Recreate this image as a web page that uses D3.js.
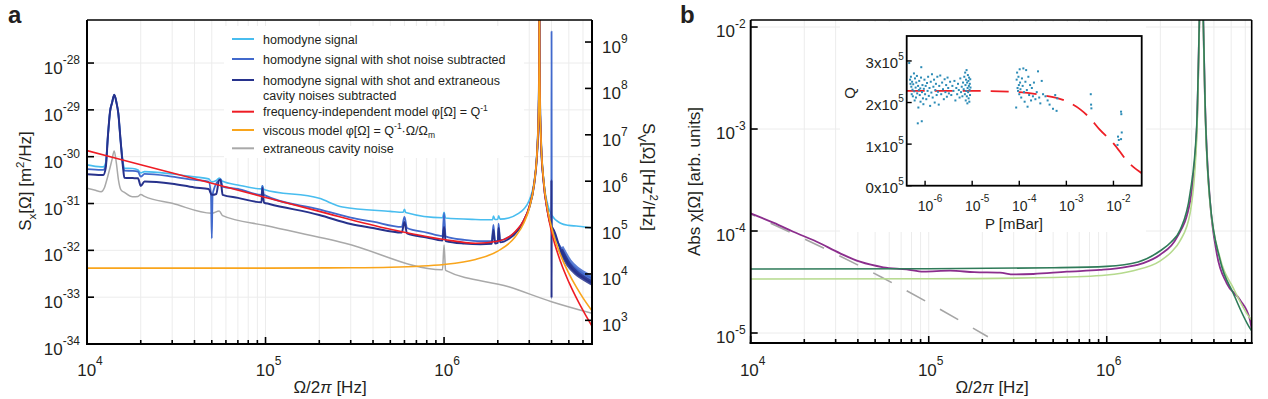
<!DOCTYPE html>
<html><head><meta charset="utf-8">
<script src="https://cdn.jsdelivr.net/npm/d3@7"></script>
<style>
body{margin:0;background:#fff;}
svg{display:block;font-family:"Liberation Sans",Arial,Helvetica,sans-serif;}
</style></head><body>
<svg id="chart" width="1268" height="399"></svg>
<script>
// ================= DATA: panel a (frequency [Hz], spectral density) =================
const homodyne = [[1e4,6.68e-31],[1.2e4,6.05e-31],[1.234e4,6.05e-31],[1.273e4,7.5e-31],[1.311e4,2.92e-30],[1.346e4,9.2e-30],[1.381e4,1.41e-29],[1.422e4,2.09e-29],[1.463e4,1.41e-29],[1.497e4,8.49e-30],[1.541e4,2.29e-30],[1.597e4,7.0e-31],[1.618e4,5.7e-31],[1.8e4,5.6e-31],[1.93e4,5.2e-31],[2.0e4,4.51e-31],[2.1e4,4.81e-31],[3e4,4.28e-31],[4e4,3.7e-31],[4.8e4,3.36e-31],[5.0e4,2.9e-31],[5.3e4,3.1e-31],[5.5e4,3.52e-31],[5.75e4,2.98e-31],[7e4,2.49e-31],[9.5e4,2.05e-31],[9.6e4,2.38e-31],[9.8e4,2.0e-31],[2e5,1.29e-31],[2.7e5,8.4e-32],[5e5,6.8e-32],[5.9e5,6.5e-32],[6e5,7.48e-32],[6.1e5,6.4e-32],[9.8e5,4.95e-32],[1e6,6.46e-32],[1.02e6,4.9e-32],[1.5e6,4.57e-32],[1.87e6,4.5e-32],[1.89e6,5.43e-32],[1.93e6,4.55e-32],[2.0e6,4.6e-32],[2.02e6,5.5e-32],[2.06e6,4.65e-32],[2.3e6,4.92e-32],[2.6e6,6.1e-32],[2.8e6,7.64e-32],[3.0e6,1.17e-31],[3.2e6,3.04e-31],[3.3e6,8.94e-31],[3.35e6,2.48e-30],[3.39e6,1.31e-29],[3.41e6,1.16e-28],[3.42e6,1e-26],[3.43e6,1.15e-28],[3.45e6,1.26e-29],[3.5e6,1.75e-30],[3.6e6,3.53e-31],[3.8e6,9.7e-32],[4.0e6,5.7e-32],[4.5e6,3.8e-32],[5e6,3.41e-32],[5.5e6,3.3e-32],[6e6,3.2e-32],[6.74e6,3.0e-32]];

const shotSubtracted = [[1e4,5.41e-31],[1.2e4,5.22e-31],[1.234e4,5.22e-31],[1.273e4,6.5e-31],[1.311e4,2.92e-30],[1.346e4,9.2e-30],[1.381e4,1.41e-29],[1.422e4,2.09e-29],[1.463e4,1.41e-29],[1.497e4,8.49e-30],[1.541e4,2.29e-30],[1.597e4,6.0e-31],[1.618e4,5.05e-31],[1.8e4,4.98e-31],[1.93e4,4.81e-31],[2.0e4,3.76e-31],[2.1e4,4.28e-31],[3e4,3.76e-31],[4e4,3.19e-31],[4.8e4,2.94e-31],[4.95e4,1.5e-31],[5.0e4,1.81e-32],[5.05e4,1.5e-31],[5.2e4,2.3e-31],[5.5e4,3.19e-31],[5.6e4,3.3e-31],[5.75e4,2.3e-31],[7e4,2.05e-31],[9.5e4,1.53e-31],[9.6e4,2.38e-31],[9.8e4,1.53e-31],[2e5,7.5e-32],[3e5,5.0e-32],[4e5,4.1e-32],[5.8e5,3.16e-32],[6e5,5.2e-32],[6.2e5,3.0e-32],[8e5,2.4e-32],[9.8e5,2.02e-32],[1e6,6.21e-32],[1.02e6,1.98e-32],[1.3e6,1.67e-32],[1.6e6,1.57e-32],[1.85e6,1.57e-32],[1.89e6,3.5e-32],[1.93e6,1.58e-32],[2.0e6,1.62e-32],[2.02e6,3.7e-32],[2.06e6,1.66e-32],[2.3e6,1.91e-32],[2.6e6,2.84e-32],[2.8e6,4.43e-32],[3.0e6,8.3e-32],[3.2e6,2.66e-31],[3.3e6,8.4e-31],[3.35e6,2.4e-30],[3.39e6,1.28e-29],[3.41e6,1.15e-28],[3.42e6,1e-26],[3.43e6,1.14e-28],[3.45e6,1.25e-29],[3.5e6,1.72e-30],[3.6e6,3.32e-31],[3.8e6,7.2e-32],[3.99e6,3.5e-32],[4.0e6,4.7e-28],[4.01e6,3.4e-32],[4.5e6,1.15e-32],[5e6,5.8e-33],[5.5e6,4.0e-33],[6e6,3.2e-33],[6.74e6,2.5e-33]];

const shotCavitySubtracted = [[1e4,4.23e-31],[1.2e4,4.08e-31],[1.234e4,4.08e-31],[1.273e4,5.77e-31],[1.311e4,2.92e-30],[1.346e4,9.2e-30],[1.381e4,1.41e-29],[1.422e4,2.09e-29],[1.463e4,1.41e-29],[1.497e4,8.49e-30],[1.541e4,2.29e-30],[1.597e4,5.22e-31],[1.618e4,3.57e-31],[1.8e4,3.49e-31],[1.93e4,3.45e-31],[2.0e4,2.38e-31],[2.1e4,2.96e-31],[3e4,2.65e-31],[4e4,2.21e-31],[4.8e4,2.05e-31],[5.0e4,1.53e-31],[5.3e4,1.6e-31],[5.5e4,3.19e-31],[5.6e4,3.19e-31],[5.75e4,1.53e-31],[7e4,1.32e-31],[9.5e4,1.06e-31],[9.6e4,2.15e-31],[9.8e4,1.05e-31],[1.05e5,9.8e-32],[2e5,5.7e-32],[3e5,3.66e-32],[4e5,3.0e-32],[5.8e5,2.41e-32],[6e5,4.05e-32],[6.2e5,2.3e-32],[8e5,1.89e-32],[9.8e5,1.63e-32],[1e6,3.16e-32],[1.02e6,1.59e-32],[1.3e6,1.4e-32],[1.6e6,1.35e-32],[1.85e6,1.38e-32],[1.89e6,2.73e-32],[1.93e6,1.4e-32],[2.0e6,1.44e-32],[2.02e6,3.0e-32],[2.06e6,1.48e-32],[2.3e6,1.75e-32],[2.6e6,2.7e-32],[2.8e6,4.3e-32],[3.0e6,8.2e-32],[3.2e6,2.65e-31],[3.3e6,8.4e-31],[3.35e6,2.4e-30],[3.39e6,1.28e-29],[3.41e6,1.15e-28],[3.42e6,1e-26],[3.43e6,1.14e-28],[3.45e6,1.25e-29],[3.5e6,1.72e-30],[3.6e6,3.3e-31],[3.8e6,7.0e-32],[3.99e6,3.3e-32],[3.995e6,3.19e-31],[4.0e6,9.6e-34],[4.005e6,3.1e-32],[4.5e6,1.02e-32],[5e6,4.9e-33],[5.5e6,3.3e-33],[6e6,2.6e-33],[6.74e6,2.0e-33]];

const freqIndependentModel = [[1e4,1.35e-30],[2e4,6.75e-31],[5e4,2.7e-31],[1e5,1.35e-31],[2e5,6.8e-32],[5e5,2.82e-32],[1e6,1.7e-32],[1.5e6,1.42e-32],[2e6,1.56e-32],[2.5e6,2.49e-32],[2.8e6,4.44e-32],[3.0e6,8.47e-32],[3.2e6,2.72e-31],[3.3e6,8.62e-31],[3.35e6,2.45e-30],[3.39e6,1.305e-29],[3.41e6,1.16e-28],[3.42e6,1e-26],[3.43e6,1.147e-28],[3.45e6,1.26e-29],[3.5e6,1.72e-30],[3.6e6,3.21e-31],[3.8e6,6.46e-32],[4.0e6,2.49e-32],[4.5e6,5.61e-33],[5e6,2.09e-33],[5.5e6,9.76e-34],[6e6,5.21e-34],[6.74e6,2.4e-34]];

const viscousModel = [[1e4,4.17e-33],[1e5,4.18e-33],[3e5,4.24e-33],[5e5,4.35e-33],[1e6,4.99e-33],[1.5e6,6.39e-33],[2e6,9.63e-33],[2.5e6,1.92e-32],[2.8e6,3.84e-32],[3.0e6,7.85e-32],[3.2e6,2.69e-31],[3.3e6,8.78e-31],[3.35e6,2.53e-30],[3.39e6,1.365e-29],[3.41e6,1.22e-28],[3.42e6,1e-26],[3.43e6,1.215e-28],[3.45e6,1.34e-29],[3.5e6,1.86e-30],[3.6e6,3.57e-31],[3.8e6,7.58e-32],[4.0e6,3.08e-32],[4.5e6,7.8e-33],[5e6,3.23e-33],[5.5e6,1.657e-33],[6e6,9.66e-34],[6.74e6,5.1e-34]];

const cavityNoise = [[1e4,2.12e-31],[1.1e4,1.95e-31],[1.2e4,1.79e-31],[1.25e4,2.15e-31],[1.3e4,3.52e-31],[1.38e4,8.55e-31],[1.42e4,1.33e-30],[1.46e4,7.38e-31],[1.5e4,3.19e-31],[1.55e4,1.95e-31],[1.62e4,1.73e-31],[1.8e4,1.4e-31],[1.93e4,1.42e-31],[2.0e4,1.56e-31],[2.1e4,1.42e-31],[3e4,1.01e-31],[5e4,6.21e-32],[5.5e4,6.95e-32],[5.75e4,5.5e-32],[1e5,3.38e-32],[2.79e5,1.42e-32],[9.8e5,3.85e-33],[1e6,1.3e-32],[1.02e6,3.75e-33],[2.3e6,1.67e-33],[4e6,8.02e-34],[6.74e6,4.53e-34]];

// ================= DATA: panel b (frequency [Hz], |chi| arb. units) =================
const chiMeasured = [[1e4,1.49e-4],[1.35e4,1.2e-4],[1.735e4,9.84e-5],[2.35e4,7.85e-5],[3.18e4,6.04e-5],[4.11e4,5.0e-5],[5.56e4,4.41e-5],[7.52e4,4.21e-5],[9.33e4,3.99e-5],[1.317e5,4.08e-5],[1.8e5,3.95e-5],[2.515e5,3.9e-5],[3.0e5,3.75e-5],[3.87e5,3.79e-5],[5.96e5,3.99e-5],[9.17e5,4.15e-5],[1.296e6,4.45e-5],[1.605e6,4.85e-5],[1.993e6,5.85e-5],[2.474e6,8.6e-5],[2.94e6,1.95e-4],[3.2e6,9.5e-4],[3.313e6,1.1e-2],[3.40e6,0.1],[3.488e6,1.1e-2],[3.565e6,1.85e-3],[3.65e6,6e-4],[3.8e6,2.0e-4],[4.15e6,6.0e-5],[4.72e6,3.07e-5],[5.61e6,2.11e-5],[6.38e6,1.34e-5],[6.52e6,1.07e-5]];

const chiModelDark = [[1e4,4.24e-5],[1e5,4.26e-5],[5e5,4.36e-5],[1e6,4.5e-5],[1.5e6,4.97e-5],[1.99e6,6.37e-5],[2.3e6,7.8e-5],[2.58e6,1.02e-4],[2.94e6,2.36e-4],[3.2e6,1.05e-3],[3.313e6,1.17e-2],[3.40e6,0.1],[3.488e6,1.17e-2],[3.565e6,1.92e-3],[3.8e6,2.01e-4],[4.33e6,5.2e-5],[5.14e6,2.45e-5],[6.38e6,1.11e-5],[6.52e6,1.05e-5]];

const chiModelLight = [[1e4,3.38e-5],[1e5,3.4e-5],[5e5,3.5e-5],[1e6,3.7e-5],[1.41e6,4.08e-5],[2.0e6,5.1e-5],[2.3e6,6.2e-5],[2.58e6,8.0e-5],[2.94e6,1.5e-4],[3.2e6,8.0e-4],[3.313e6,1.0e-2],[3.40e6,0.1],[3.488e6,1.0e-2],[3.565e6,1.7e-3],[3.8e6,1.9e-4],[4.33e6,5.43e-5],[5.14e6,2.76e-5],[6.38e6,1.4e-5],[6.52e6,1.34e-5]];

const chiLowFreqAsymptote = [[1e4,1.47e-4],[5.44e4,3.52e-5],[2.15e5,9.2e-6]];

// ================= DATA: inset (pressure [mBar], Q) =================
const qMeasured = [[4.6e-7,2.95e5],[4.8e-7,2.55e5],[4.9e-7,2.45e5],[5.0e-7,2.62e5],[5.1e-7,2.38e5],[5.2e-7,2.2e5],[5.3e-7,2.5e5],[5.4e-7,2.31e5],[5.5e-7,2.15e5],[5.6e-7,2.44e5],[5.8e-7,2.7e5],[5.9e-7,2.27e5],[6.0e-7,2.05e5],[6.1e-7,2.58e5],[6.3e-7,2.36e5],[6.4e-7,2.12e5],[6.5e-7,2.48e5],[6.7e-7,2.64e5],[6.8e-7,2.22e5],[7.0e-7,1.5e5],[7.1e-7,2.4e5],[7.2e-7,1.88e5],[7.4e-7,2.3e5],[7.5e-7,2.52e5],[7.7e-7,2.18e5],[7.9e-7,2.34e5],[8.0e-7,2.02e5],[8.2e-7,2.6e5],[8.3e-7,2.85e5],[8.5e-7,1.55e5],[8.6e-7,2.25e5],[8.8e-7,2.42e5],[9.0e-7,2.1e5],[9.2e-7,1.96e5],[9.4e-7,2.33e5],[9.7e-7,2.55e5],[1.0e-6,2.2e5],[1.03e-6,2.4e5],[1.06e-6,2.08e5],[1.1e-6,2.47e5],[1.13e-6,2.28e5],[1.16e-6,2.62e5],[1.2e-6,2.16e5],[1.24e-6,2.35e5],[1.28e-6,1.92e5],[1.32e-6,2.5e5],[1.36e-6,2.24e5],[1.4e-6,2.68e5],[1.45e-6,2.12e5],[1.5e-6,2.38e5],[1.55e-6,2.55e5],[1.6e-6,2.0e5],[1.65e-6,2.3e5],[1.7e-6,2.45e5],[1.76e-6,2.18e5],[1.82e-6,2.62e5],[1.88e-6,2.26e5],[1.95e-6,1.95e5],[2.0e-6,2.4e5],[2.1e-6,2.65e5],[2.2e-6,2.2e5],[2.3e-6,2.48e5],[2.4e-6,2.32e5],[2.5e-6,2.08e5],[2.6e-6,2.56e5],[2.7e-6,2.25e5],[2.8e-6,2.42e5],[2.9e-6,2.14e5],[3.0e-6,2.6e5],[3.1e-6,2.35e5],[3.2e-6,2.22e5],[3.4e-6,2.5e5],
[3.6e-6,2.18e5],[3.8e-6,2.4e5],[4.0e-6,2.28e5],[4.2e-6,2.52e5],[4.4e-6,2.05e5],[4.6e-6,2.35e5],[4.8e-6,2.2e5],[5.0e-6,2.45e5],[5.2e-6,2.3e5],[5.4e-6,2.12e5],[5.6e-6,2.58e5],[5.8e-6,2.25e5],[6.0e-6,2.38e5],[6.2e-6,2.15e5],[6.4e-6,2.48e5],[6.6e-6,2.32e5],[6.8e-6,2.62e5],[7.0e-6,2.2e5],[7.1e-6,2.72e5],[7.2e-6,2.42e5],[7.3e-6,2.05e5],[7.4e-6,2.55e5],[7.5e-6,2.28e5],[7.6e-6,2.78e5],[7.7e-6,2.15e5],[7.8e-6,2.48e5],[7.9e-6,1.98e5],[8.0e-6,2.35e5],[8.1e-6,2.66e5],[8.2e-6,2.25e5],[8.3e-6,2.52e5],[8.4e-6,2.1e5],[8.5e-6,2.4e5],[8.6e-6,2.6e5],[8.7e-6,2.02e5],[8.8e-6,2.3e5],[8.9e-6,2.45e5],[9.0e-6,2.18e5],[9.1e-6,2.56e5],[9.2e-6,2.36e5],
[8.6e-5,1.88e5],[8.8e-5,2.55e5],[9.0e-5,2.72e5],[9.2e-5,2.35e5],[9.4e-5,2.28e5],[9.6e-5,2.62e5],[9.8e-5,2.42e5],[1.0e-4,2.2e5],[1.02e-4,2.8e5],[1.04e-4,2.48e5],[1.06e-4,2.32e5],[1.1e-4,2.12e5],[1.14e-4,2.58e5],[1.18e-4,2.4e5],[1.22e-4,2.82e5],[1.26e-4,2.25e5],[1.3e-4,2.02e5],[1.35e-4,2.5e5],[1.4e-4,2.78e5],[1.45e-4,2.3e5],[1.5e-4,1.9e5],[1.56e-4,2.62e5],[1.62e-4,2.18e5],[1.7e-4,2.42e5],[1.78e-4,2.05e5],[1.85e-4,2.35e5],[1.95e-4,2.15e5],[2.05e-4,2.48e5],[2.2e-4,2.08e5],[2.35e-4,2.25e5],[2.5e-4,2.75e5],[2.65e-4,2.12e5],[2.8e-4,1.98e5],[3.0e-4,2.52e5],[3.2e-4,2.2e5],
[3.6e-4,2.15e5],[4.0e-4,2.05e5],[4.4e-4,1.95e5],[5.2e-4,1.85e5],[5.8e-4,2.18e5],[6.2e-4,1.8e5],[6.4e-4,2.1e5],
[3.3e-3,2.2e5],[3.35e-3,1.95e5],[3.4e-3,1.86e5],
[1.45e-2,1.78e5],[1.47e-2,1.72e5],[1.5e-2,1.28e5],[1.25e-2,1.18e5],[1.3e-2,1.1e5],[1.22e-2,0.98e5],[1.45e-2,1.12e5]];

const qFit = [[4.07e-7,2.28e5],[1e-6,2.28e5],[1e-5,2.28e5],[1e-4,2.25e5],[3e-4,2.18e5],[1e-3,2.03e5],[2e-3,1.83e5],[3.2e-3,1.62e5],[5e-3,1.36e5],[1e-2,1.02e5],[2e-2,5.8e4],[3.98e-2,3.0e4]];

// ================= TICKS / LABELS =================
const xDecadesA = [1e4,1e5,1e6];
const xDecadesB = [1e4,1e5,1e6];
const yTicksA = [1e-34,1e-33,1e-32,1e-31,1e-30,1e-29,1e-28];
const yTicksA2 = [1e3,1e4,1e5,1e6,1e7,1e8,1e9];
const yTicksB = [1e-5,1e-4,1e-3,1e-2];
const insetYTicks = [0,1e5,2e5,3e5];
const insetXTicks = [1e-6,1e-5,1e-4,1e-3,1e-2];

const legendEntries = [
  {lines:[[['homodyne signal']]], key:'light'},
  {lines:[[['homodyne signal with shot noise subtracted']]], key:'medium'},
  {lines:[[['homodyne signal with shot and extraneous']],[['cavity noises subtracted']]], key:'navy'},
  {lines:[[['frequency-independent model φ[Ω] = Q'],['-1','sup']]], key:'red'},
  {lines:[[['viscous model φ[Ω] = Q'],['-1','sup'],['·Ω/Ω'],['m','sub']]], key:'orange'},
  {lines:[[['extraneous cavity noise']]], key:'grey'}
];

// ================= STYLE =================
const COL = {light:'#48bdef', medium:'#4169cc', navy:'#27328c', red:'#ee1c24', orange:'#f9a51c', grey:'#a9a9a9',
  purple:'#8b2e8d', dgreen:'#2f7b59', lgreen:'#b5da8d', dash:'#a5a5a5', dot:'#2b8bb6', fit:'#ee1f26',
  grid:'#ececec', text:'#231f20'};

const svg = d3.select('#chart');
const defs = svg.append('defs');

function rich(g, x, y, parts, fs, anchor) {
  const t = g.append('text').attr('x', x).attr('y', y).attr('font-size', fs).attr('fill', COL.text);
  if (anchor) t.attr('text-anchor', anchor);
  let shift = 0;
  parts.forEach(p => {
    const txt = p[0], kind = p[1];
    const target = kind === 'sup' ? -0.42 * fs : (kind === 'sub' ? 0.3 * fs : 0);
    const ts = t.append('tspan').text(txt).attr('dy', target - shift);
    if (kind === 'sup' || kind === 'sub') ts.attr('font-size', fs * 0.68);
    if (kind === 'it') ts.attr('font-style', 'italic');
    shift = target;
  });
  return t;
}
function pow10(g, x, y, exp, anchor, fs, sfs, sdy, prefix) {
  const t = g.append('text').attr('x', x).attr('y', y).attr('text-anchor', anchor)
    .attr('font-size', fs).attr('fill', COL.text);
  t.append('tspan').text(prefix || '10');
  t.append('tspan').attr('font-size', sfs).attr('dy', sdy).text(exp);
  return t;
}
function minors(decades, max) {
  const out = [];
  decades.forEach(d => { for (let k = 2; k <= 9; k++) if (d * k <= max) out.push(d * k); });
  return out;
}
const expOf = v => String(Math.round(Math.log10(v)));
function clip(id, P) {
  defs.append('clipPath').attr('id', id).append('rect')
    .attr('x', P.l).attr('y', P.t).attr('width', P.r - P.l).attr('height', P.b - P.t);
}
function hline(g, x1, x2, y, w, c) { g.append('line').attr('x1', x1).attr('x2', x2).attr('y1', y).attr('y2', y).attr('stroke', c || '#000').attr('stroke-width', w); }
function vline(g, x, y1, y2, w, c) { g.append('line').attr('x1', x).attr('x2', x).attr('y1', y1).attr('y2', y2).attr('stroke', c || '#000').attr('stroke-width', w); }

// ================= PANEL A =================
const A = {l:87, r:592, t:20, b:344};
const xA = d3.scaleLog().domain([1e4, 6.74e6]).range([A.l, A.r]);
const yA = d3.scaleLog().domain([1e-34, 8.3e-28]).range([A.b, A.t]);
const yA2 = d3.scaleLog().domain([309, 2.985e9]).range([A.b, A.t]);
clip('clipA', A);
const gA = svg.append('g');
const xMinorA = minors(xDecadesA, 6.74e6);
xDecadesA.concat(xMinorA).forEach(v => vline(gA, xA(v), A.t, A.b, 1, COL.grid));
yTicksA.forEach(v => hline(gA, A.l, A.r, yA(v), 1, COL.grid));
gA.append('rect').attr('x', 224).attr('y', 26).attr('width', 300).attr('height', 132).attr('fill', '#fff');

const lineA = d3.line().x(d => xA(d[0])).y(d => yA(d[1])).curve(d3.curveMonotoneX);
const dA = gA.append('g').attr('clip-path', 'url(#clipA)');
function pathA(data, color, w) {
  return dA.append('path').datum(data).attr('d', lineA).attr('fill', 'none')
    .attr('stroke', color).attr('stroke-width', w).attr('stroke-linejoin', 'round');
}
pathA(cavityNoise, COL.grey, 1.5);
pathA(homodyne, COL.light, 1.6);
pathA(shotSubtracted.filter(d => d[0] >= 4.1e6), COL.medium, 6).attr('opacity', 0.85);
pathA(shotSubtracted, COL.medium, 1.8);
pathA(shotCavitySubtracted.filter(d => d[0] >= 4.1e6), COL.navy, 5).attr('opacity', 0.85);
pathA(shotCavitySubtracted, COL.navy, 2);
pathA(freqIndependentModel, COL.red, 1.6);
pathA(viscousModel, COL.orange, 1.6);

legendEntries.forEach((e, i) => {
  const rowY = [39, 59, 80, 111.7, 130, 148.3][i];
  hline(gA, 232, 254, rowY, 2, COL[e.key]);
  e.lines.forEach((ln, j) => rich(gA, 263, rowY + 4.5 + j * 15.5, ln, 12.5));
});

hline(gA, A.l, A.r, A.t, 1.5);
hline(gA, A.l - 1, A.r + 1, A.b, 2);
vline(gA, A.l, A.t, A.b + 1, 2);
vline(gA, A.r, A.t, A.b + 1, 2);
xDecadesA.forEach(v => vline(gA, xA(v), A.b, A.b - 7, 1.6));
xMinorA.forEach(v => vline(gA, xA(v), A.b, A.b - 4, 1.6));
yTicksA.forEach(v => hline(gA, A.l, A.l + 7, yA(v), 1.6));
yTicksA2.forEach(v => hline(gA, A.r, A.r - 7, yA2(v), 1.6));
xDecadesA.forEach(v => pow10(gA, xA(v) + 3, 376, expOf(v), 'middle', 17, 12, -11));
yTicksA.forEach(v => pow10(gA, A.l - 7, yA(v) + 11, expOf(v), 'end', 17, 12, -10));
yTicksA2.forEach(v => pow10(gA, A.r + 10, yA2(v) + 11, expOf(v), 'start', 17, 12, -10));
rich(gA, 330, 393, [['Ω/2'], ['π', 'it'], [' [Hz]']], 17, 'middle');
rich(gA.append('g').attr('transform', 'translate(31,181) rotate(-90)'), 0, 0,
  [['S'], ['x', 'sub'], ['[Ω] [m'], ['2', 'sup'], ['/Hz]']], 17, 'middle');
rich(gA.append('g').attr('transform', 'translate(643,177) rotate(90)'), 0, 0,
  [['S'], ['V', 'sub'], ['[Ω] [Hz'], ['2', 'sup'], ['/Hz]']], 17, 'middle');
gA.append('text').attr('x', 8).attr('y', 23).attr('font-size', 24).attr('font-weight', 'bold').attr('fill', COL.text).text('a');

// ================= PANEL B =================
const B = {l:750.7, r:1251.7, t:20, b:343};
const xB = d3.scaleLog().domain([1e4, 6.52e6]).range([B.l, B.r]);
const yB = d3.scaleLog().domain([7.98e-6, 1.172e-2]).range([B.b, B.t]);
clip('clipB', B);
const gB = svg.append('g');
const xMinorB = minors(xDecadesB, 6.52e6);
xDecadesB.concat(xMinorB).forEach(v => vline(gB, xB(v), B.t, B.b, 1, COL.grid));
yTicksB.forEach(v => hline(gB, B.l, B.r, yB(v), 1, COL.grid));
gB.append('rect').attr('x', 840).attr('y', 22).attr('width', 306).attr('height', 210).attr('fill', '#fff');

const lineB = d3.line().x(d => xB(d[0])).y(d => yB(d[1])).curve(d3.curveMonotoneX);
const dB = gB.append('g').attr('clip-path', 'url(#clipB)');
dB.append('path').datum(chiLowFreqAsymptote).attr('d', lineB).attr('fill', 'none').attr('stroke', COL.dash)
  .attr('stroke-width', 1.6).attr('stroke-dasharray', '21,17').attr('stroke-dashoffset', -60);
dB.append('path').datum(chiMeasured).attr('d', lineB).attr('fill', 'none').attr('stroke', COL.purple).attr('stroke-width', 1.8);
dB.append('path').datum(chiModelLight).attr('d', lineB).attr('fill', 'none').attr('stroke', COL.lgreen).attr('stroke-width', 1.6);
dB.append('path').datum(chiModelDark).attr('d', lineB).attr('fill', 'none').attr('stroke', COL.dgreen).attr('stroke-width', 1.6);

hline(gB, B.l, B.r, B.t, 1.5);
hline(gB, B.l - 1, B.r + 1, B.b, 2);
vline(gB, B.l, B.t, B.b + 1, 2);
vline(gB, B.r, B.t, B.b + 1, 1.6);
xDecadesB.forEach(v => vline(gB, xB(v), B.b, B.b - 7, 1.6));
xMinorB.forEach(v => vline(gB, xB(v), B.b, B.b - 4, 1.6));
yTicksB.forEach(v => hline(gB, B.l, B.l + 7, yB(v), 1.6));
xDecadesB.forEach(v => pow10(gB, xB(v) + 2, 376, expOf(v), 'middle', 17, 12, -11));
yTicksB.forEach(v => pow10(gB, B.l - 5, yB(v) + 10, expOf(v), 'end', 17, 12, -9));
rich(gB, 992, 393, [['Ω/2'], ['π', 'it'], [' [Hz]']], 17, 'middle');
rich(gB.append('g').attr('transform', 'translate(700,181.5) rotate(-90)'), 0, 0,
  [['Abs χ[Ω]  [arb. units]']], 17, 'middle');
gB.append('text').attr('x', 680).attr('y', 23).attr('font-size', 24).attr('font-weight', 'bold').attr('fill', COL.text).text('b');

// ================= INSET =================
const I = {l:906.7, r:1141.7, t:36, b:185.7};
const xI = d3.scaleLog().domain([4.07e-7, 3.98e-2]).range([I.l, I.r]);
const yI = d3.scaleLinear().domain([0, 3.6e5]).range([I.b, I.t]);
clip('clipI', I);
const gI = svg.append('g');
const dI = gI.append('g').attr('clip-path', 'url(#clipI)');
const lineI = d3.line().x(d => xI(d[0])).y(d => yI(d[1])).curve(d3.curveMonotoneX);
dI.append('path').datum(qFit).attr('d', lineI).attr('fill', 'none').attr('stroke', COL.fit)
  .attr('stroke-width', 1.8).attr('stroke-dasharray', '18,10');
dI.selectAll('rect.pt').data(qMeasured).enter().append('rect').attr('class', 'pt')
  .attr('x', d => xI(d[0]) - 1).attr('y', d => yI(d[1]) - 1).attr('width', 2).attr('height', 2).attr('fill', COL.dot);
gI.append('rect').attr('x', I.l).attr('y', I.t).attr('width', I.r - I.l).attr('height', I.b - I.t)
  .attr('fill', 'none').attr('stroke', '#000').attr('stroke-width', 1.8);
insetYTicks.forEach(v => {
  hline(gI, I.l, I.l + 5, yI(v), 1.4);
  pow10(gI, I.l - 3, yI(v) + 7.5, '5', 'end', 15, 10, -8, (v / 1e5) + 'x10');
});
insetXTicks.forEach(v => {
  vline(gI, xI(v), I.b, I.b - 5, 1.4);
  pow10(gI, xI(v) + 5, 211, expOf(v), 'middle', 14, 10, -9);
});
gI.append('text').attr('x', 1014).attr('y', 229).attr('text-anchor', 'middle').attr('font-size', 15).attr('fill', COL.text).text('P [mBar]');
gI.append('text').attr('transform', 'translate(855,93) rotate(-90)').attr('text-anchor', 'middle').attr('font-size', 15).attr('fill', COL.text).text('Q');
</script></body></html>
